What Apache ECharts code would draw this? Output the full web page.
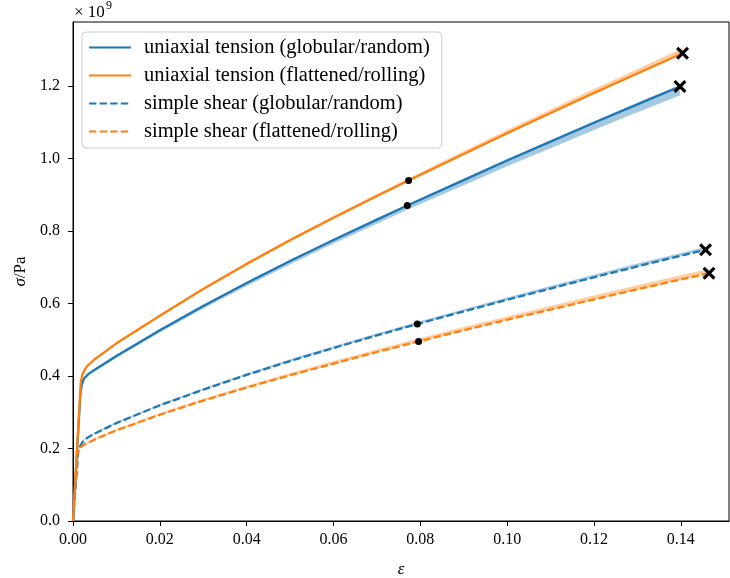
<!DOCTYPE html>
<html>
<head>
<meta charset="utf-8">
<script src="https://cdn.jsdelivr.net/npm/echarts@6/dist/echarts.min.js"></script>
<style>
  html, body { margin: 0; padding: 0; background: #fff; }
  #chart { width: 730px; height: 578px; }
</style>
</head>
<body>
<div id="chart"></div>
<script>
// strain / stress (x1e9 Pa)
const utGlobE = [0, 0.0017, 0.002, 0.0025, 0.0035, 0.005, 0.01, 0.02, 0.03, 0.04, 0.05, 0.06, 0.07, 0.077, 0.09, 0.10, 0.11, 0.12, 0.13, 0.1398]
const utGlobS = [0, 0.35, 0.375, 0.392, 0.405, 0.417, 0.455, 0.526, 0.593, 0.656, 0.717, 0.775, 0.831, 0.870, 0.940, 0.994, 1.046, 1.098, 1.149, 1.198]
const utGlobDown = [0, 0, 0.002, 0.003, 0.003, 0.004, 0.005, 0.006, 0.007, 0.008, 0.009, 0.010, 0.011, 0.012, 0.014, 0.016, 0.018, 0.020, 0.022, 0.025]
const utGlobUp = [0, 0, 0.002, 0.002, 0.002, 0.002, 0.003, 0.003, 0.003, 0.003, 0.003, 0.003, 0.003, 0.003, 0.004, 0.004, 0.004, 0.004, 0.004, 0.004]

const utFlatE = [0, 0.0018, 0.0022, 0.0028, 0.0035, 0.005, 0.01, 0.02, 0.03, 0.04, 0.05, 0.06, 0.07, 0.0773, 0.09, 0.10, 0.11, 0.12, 0.13, 0.1404]
const utFlatS = [0, 0.385, 0.405, 0.420, 0.430, 0.446, 0.490, 0.566, 0.640, 0.709, 0.774, 0.836, 0.896, 0.939, 1.012, 1.069, 1.125, 1.180, 1.234, 1.290]
const utFlatDown = [0, 0, 0.001, 0.001, 0.001, 0.001, 0.001, 0.002, 0.002, 0.002, 0.002, 0.002, 0.002, 0.002, 0.002, 0.002, 0.002, 0.002, 0.002, 0.002]
const utFlatUp = [0, 0, 0.002, 0.002, 0.002, 0.002, 0.003, 0.003, 0.004, 0.004, 0.005, 0.005, 0.006, 0.006, 0.008, 0.009, 0.010, 0.011, 0.012, 0.014]

const ssGlobE = [0, 0.0012, 0.0016, 0.0024, 0.0035, 0.005, 0.01, 0.02, 0.03, 0.04, 0.05, 0.06, 0.07, 0.0793, 0.09, 0.10, 0.11, 0.12, 0.13, 0.14, 0.1457]
const ssGlobS = [0, 0.19, 0.205, 0.222, 0.231, 0.241, 0.270, 0.319, 0.362, 0.403, 0.441, 0.477, 0.512, 0.543, 0.578, 0.610, 0.641, 0.672, 0.702, 0.731, 0.748]
const ssGlobDown = [0, 0, 0.001, 0.001, 0.001, 0.001, 0.001, 0.001, 0.001, 0.001, 0.001, 0.001, 0.001, 0.001, 0.001, 0.001, 0.001, 0.001, 0.001, 0.001, 0.001]
const ssGlobUp = [0, 0, 0.002, 0.002, 0.002, 0.003, 0.003, 0.003, 0.004, 0.004, 0.005, 0.005, 0.005, 0.006, 0.006, 0.006, 0.007, 0.007, 0.008, 0.008, 0.008]

const ssFlatE = [0, 0.001, 0.0014, 0.0025, 0.005, 0.01, 0.02, 0.03, 0.04, 0.05, 0.06, 0.07, 0.0796, 0.09, 0.10, 0.11, 0.12, 0.13, 0.14, 0.1465]
const ssFlatS = [0, 0.185, 0.2, 0.21, 0.225, 0.25, 0.293, 0.332, 0.368, 0.402, 0.434, 0.466, 0.495, 0.526, 0.555, 0.583, 0.611, 0.639, 0.666, 0.683]
const ssFlatDown = [0, 0, 0.001, 0.001, 0.001, 0.001, 0.001, 0.001, 0.001, 0.001, 0.001, 0.001, 0.001, 0.001, 0.001, 0.001, 0.001, 0.001, 0.001, 0.001]
const ssFlatUp = [0, 0, 0.002, 0.002, 0.003, 0.003, 0.004, 0.005, 0.005, 0.006, 0.007, 0.007, 0.008, 0.009, 0.009, 0.010, 0.011, 0.011, 0.012, 0.012]

// black dots and end crosses
const dotE = [0.077, 0.0773, 0.0793, 0.0796]
const dotS = [0.870, 0.939, 0.543, 0.495]
const endE = [0.1398, 0.1404, 0.1457, 0.1465]
const endS = [1.198, 1.290, 0.748, 0.683]

const names = [
  'uniaxial tension (globular/random)',
  'uniaxial tension (flattened/rolling)',
  'simple shear (globular/random)',
  'simple shear (flattened/rolling)'
]
const xTicks = [0, 0.02, 0.04, 0.06, 0.08, 0.10, 0.12, 0.14]
const yTicks = [0, 0.2, 0.4, 0.6, 0.8, 1.0, 1.2]

const BLUE = '#1f77b4'
const ORANGE = '#ff7f0e'
const FONT = 'Liberation Serif'

const curves = [
  { e: utGlobE, s: utGlobS, dn: utGlobDown, up: utGlobUp, color: BLUE, band: 'rgba(31,119,180,0.4)', dash: 'solid' },
  { e: utFlatE, s: utFlatS, dn: utFlatDown, up: utFlatUp, color: ORANGE, band: 'rgba(255,127,14,0.4)', dash: 'solid' },
  { e: ssGlobE, s: ssGlobS, dn: ssGlobDown, up: ssGlobUp, color: BLUE, band: 'rgba(31,119,180,0.4)', dash: [7.4, 3.2] },
  { e: ssFlatE, s: ssFlatS, dn: ssFlatDown, up: ssFlatUp, color: ORANGE, band: 'rgba(255,127,14,0.4)', dash: [7.4, 3.2] }
]

function zip (a, b) {
  return a.map((v, i) => [v, b[i]])
}

const series = []
// bands first so they sit under the lines
curves.forEach(c => {
  const pts = c.e.map((v, i) => [v, c.s[i] - c.dn[i], c.s[i] + c.up[i]])
  series.push({
    type: 'custom',
    silent: true,
    z: 1,
    data: pts,
    renderItem: function (params, api) {
      if (params.dataIndex !== 0) return null
      const upper = pts.map(p => api.coord([p[0], p[2]]))
      const lower = pts.map(p => api.coord([p[0], p[1]])).reverse()
      return {
        type: 'polygon',
        shape: { points: upper.concat(lower) },
        style: { fill: c.band }
      }
    }
  })
})
curves.forEach((c, i) => {
  series.push({
    name: names[i],
    type: 'line',
    z: 3,
    symbol: 'none',
    data: zip(c.e, c.s),
    lineStyle: { color: c.color, width: 2.3, type: c.dash, join: 'round' },
    itemStyle: { color: c.color }
  })
})
series.push({
  type: 'scatter',
  z: 5,
  symbolSize: 7,
  itemStyle: { color: '#000', opacity: 1 },
  data: zip(dotE, dotS)
})
series.push({
  type: 'scatter',
  z: 5,
  symbol: 'path://M0,1.7L1.7,0L5,3.3L8.3,0L10,1.7L6.7,5L10,8.3L8.3,10L5,6.7L1.7,10L0,8.3L3.3,5Z',
  symbolSize: 13,
  itemStyle: { color: '#000', opacity: 1 },
  data: zip(endE, endS)
})

const chart = echarts.init(document.getElementById('chart'))
chart.setOption({
  animation: false,
  backgroundColor: '#fff',
  textStyle: { fontFamily: FONT },
  grid: {
    left: 73, right: 1, top: 22, bottom: 57,
    outerBoundsMode: 'none',
    show: true, borderColor: '#000', borderWidth: 1
  },
  legend: {
    data: names,
    orient: 'vertical',
    left: 82,
    top: 32,
    itemWidth: 42,
    itemHeight: 18,
    itemGap: 7,
    padding: [5, 12, 6, 6],
    backgroundColor: 'rgba(255,255,255,0.8)',
    borderColor: '#cccccc',
    borderWidth: 1,
    borderRadius: 4,
    itemStyle: { opacity: 0 },
    textStyle: { fontFamily: FONT, fontSize: 20.5, color: '#000', padding: [0, 0, 0, 8] }
  },
  xAxis: {
    type: 'value',
    min: 0,
    max: 0.1511,
    name: 'ε',
    nameLocation: 'middle',
    nameGap: 40,
    nameTextStyle: { fontFamily: FONT, fontSize: 17, fontStyle: 'italic', color: '#000' },
    splitLine: { show: false },
    axisLine: { lineStyle: { color: '#000', width: 1 } },
    axisTick: { length: 5, lineStyle: { color: '#000' }, customValues: xTicks },
    axisLabel: {
      customValues: xTicks,
      margin: 11,
      fontFamily: FONT,
      fontSize: 16,
      color: '#000',
      formatter: v => v.toFixed(2)
    }
  },
  yAxis: {
    type: 'value',
    min: 0,
    max: 1.376,
    name: '{i|σ}/Pa',
    nameLocation: 'middle',
    nameGap: 42,
    nameTextStyle: {
      fontFamily: FONT, fontSize: 17, color: '#000',
      rich: { i: { fontFamily: FONT, fontSize: 17, fontStyle: 'italic', color: '#000' } }
    },
    splitLine: { show: false },
    axisLine: { lineStyle: { color: '#000', width: 1 } },
    axisTick: { length: 5, lineStyle: { color: '#000' }, customValues: yTicks },
    axisLabel: {
      customValues: yTicks,
      margin: 13,
      fontFamily: FONT,
      fontSize: 16,
      color: '#000',
      formatter: v => v.toFixed(1)
    }
  },
  graphic: [{
    type: 'text',
    left: 74,
    top: 4,
    style: { text: '× 10', font: '17px "Liberation Serif"', fill: '#000' }
  }, {
    type: 'text',
    left: 106,
    top: 0,
    style: { text: '9', font: '12px "Liberation Serif"', fill: '#000' }
  }],
  series: series
})
</script>
</body>
</html>
